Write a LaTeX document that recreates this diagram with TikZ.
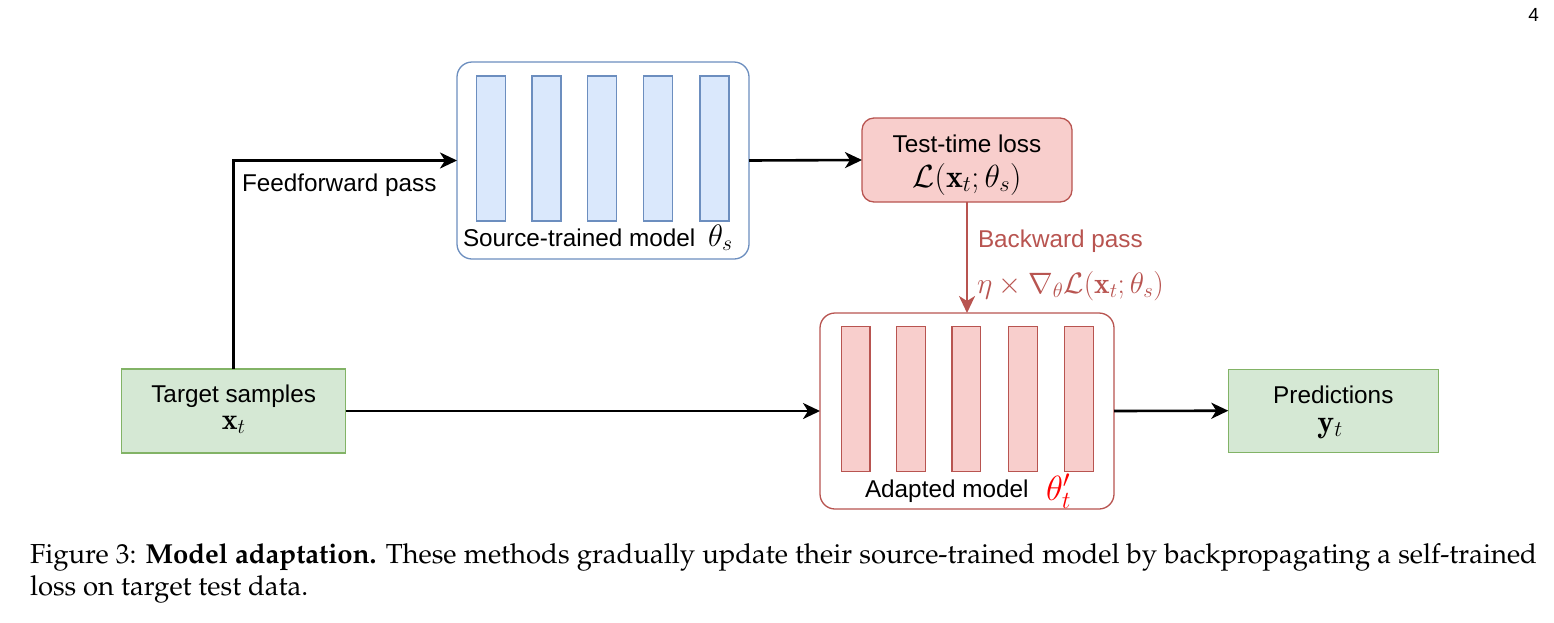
\RequirePackage{fix-cm}
\documentclass[tikz,border=0pt]{standalone}
\usepackage[T1]{fontenc}
\usepackage{fontspec}
\newfontfamily\arial{Liberation Sans}
\usetikzlibrary{arrows.meta}
\definecolor{blueD}{HTML}{6C8EBF}
\definecolor{blueF}{HTML}{DAE8FC}
\definecolor{redD}{HTML}{B85450}
\definecolor{redF}{HTML}{F8CECC}
\definecolor{greenD}{HTML}{82B366}
\definecolor{greenF}{HTML}{D5E8D4}
\newcommand{\palfont}{\fontencoding{T1}\fontfamily{ppl}\selectfont}
\newcommand{\msize}[1]{\fontsize{#1}{#1}\selectfont}
\begin{document}
\begin{tikzpicture}[x=1pt,y=-1pt,
  every node/.style={inner sep=0pt,outer sep=0pt},
  txt/.style={font=\arial\fontsize{24.3}{28}\selectfont},
  modelbox/.style={draw,line width=1.3pt,fill=white,rounded corners=15pt},
  bluebar/.style={draw=blueD,fill=blueF,line width=1.2pt,minimum width=29pt,minimum height=145pt},
  redbar/.style={draw=redD,fill=redF,line width=1.2pt,minimum width=28.5pt,minimum height=145pt},
  greenbox/.style={draw=greenD,fill=greenF,line width=1.3pt,minimum width=224pt,minimum height=84pt},
  conn/.style={line width=2.6pt,-{Stealth[length=17pt,width=16pt,inset=5pt]}},
  captxt/.style={font=\palfont\fontsize{27.5}{32}\selectfont}
]
\useasboundingbox (0,0) rectangle (1554,622);
% page number
\node[font=\arial\fontsize{19}{22}\selectfont,anchor=base east] (pagenum) at (1539,21) {4};
% source model
\node[modelbox,draw=blueD,minimum width=292pt,minimum height=197pt] (source) at (603,160.5) {};
\foreach \i/\x in {1/491,2/546.5,3/602,4/658.3,5/714.5}
  \node[bluebar] (sb\i) at (\x,148.4) {};
\node[txt,anchor=base west] (sourcelbl) at (463,246) {Source-trained model\hspace{6pt} {\msize{31}$\theta_s$}};
% test-time loss
\node[draw=redD,fill=redF,line width=1.3pt,rounded corners=12pt,minimum width=210pt,minimum height=84pt] (loss) at (967,160) {};
\node[txt,anchor=base] (losst1) at (967,152) {Test-time loss};
\node[font=\msize{32},anchor=base] (losst2) at (967,187) {$\mathcal{L}(\mathbf{x}_t;\theta_s)$};
% adapted model
\node[modelbox,draw=redD,minimum width=294pt,minimum height=196pt] (adapted) at (967,411) {};
\foreach \i/\x in {1/855.7,2/911,3/966.3,4/1023,5/1079}
  \node[redbar] (ab\i) at (\x,399) {};
\node[txt,anchor=base west] (adaptedlbl) at (865,497) {Adapted model};
\node[font=\msize{35},text=red,anchor=base west] (thetap) at (1046,500) {$\theta'_t$};
% target / predictions
\node[greenbox] (target) at (233.7,411) {};
\node[txt,anchor=base] (targett1) at (233.7,402) {Target samples};
\node[font=\msize{30},anchor=base] (targett2) at (233.7,429) {$\mathbf{x}_t$};
\node[greenbox,minimum width=210pt,minimum height=83pt] (pred) at (1333.3,410.7) {};
\node[txt,anchor=base] (predt1) at (1333.3,403) {Predictions};
\node[font=\msize{32},anchor=base] (predt2) at (1330,432) {$\mathbf{y}_t$};
% connectors
\draw[conn] (target.north) |- (source.west);
\node[txt,anchor=base west] (fflbl) at (242,191) {Feedforward pass};
\draw[conn] (source.east) -- (loss.west);
\draw[conn,draw=redD,fill=redD] (loss.south) -- (adapted.north);
\node[txt,text=redD,anchor=base west] (bwlbl) at (978,247) {Backward pass};
\node[font=\msize{29.5},text=redD,anchor=base west] (bwmath) at (977,293) {$\eta\times\nabla_{\theta}\mathcal{L}(\mathbf{x}_t;\theta_s)$};
\draw[conn] (target.east) -- (adapted.west);
\draw[conn] (adapted.east) -- (pred.west);
% caption
\node[captxt,anchor=base west] (cap1) at (30,563) {\makebox[1507pt][s]{Figure 3: \textbf{Model adaptation.} These methods gradually update their source-trained model by backpropagating a self-trained}};
\node[captxt,anchor=base west] (cap2) at (30,595) {loss on target test data.};
\end{tikzpicture}
\end{document}
